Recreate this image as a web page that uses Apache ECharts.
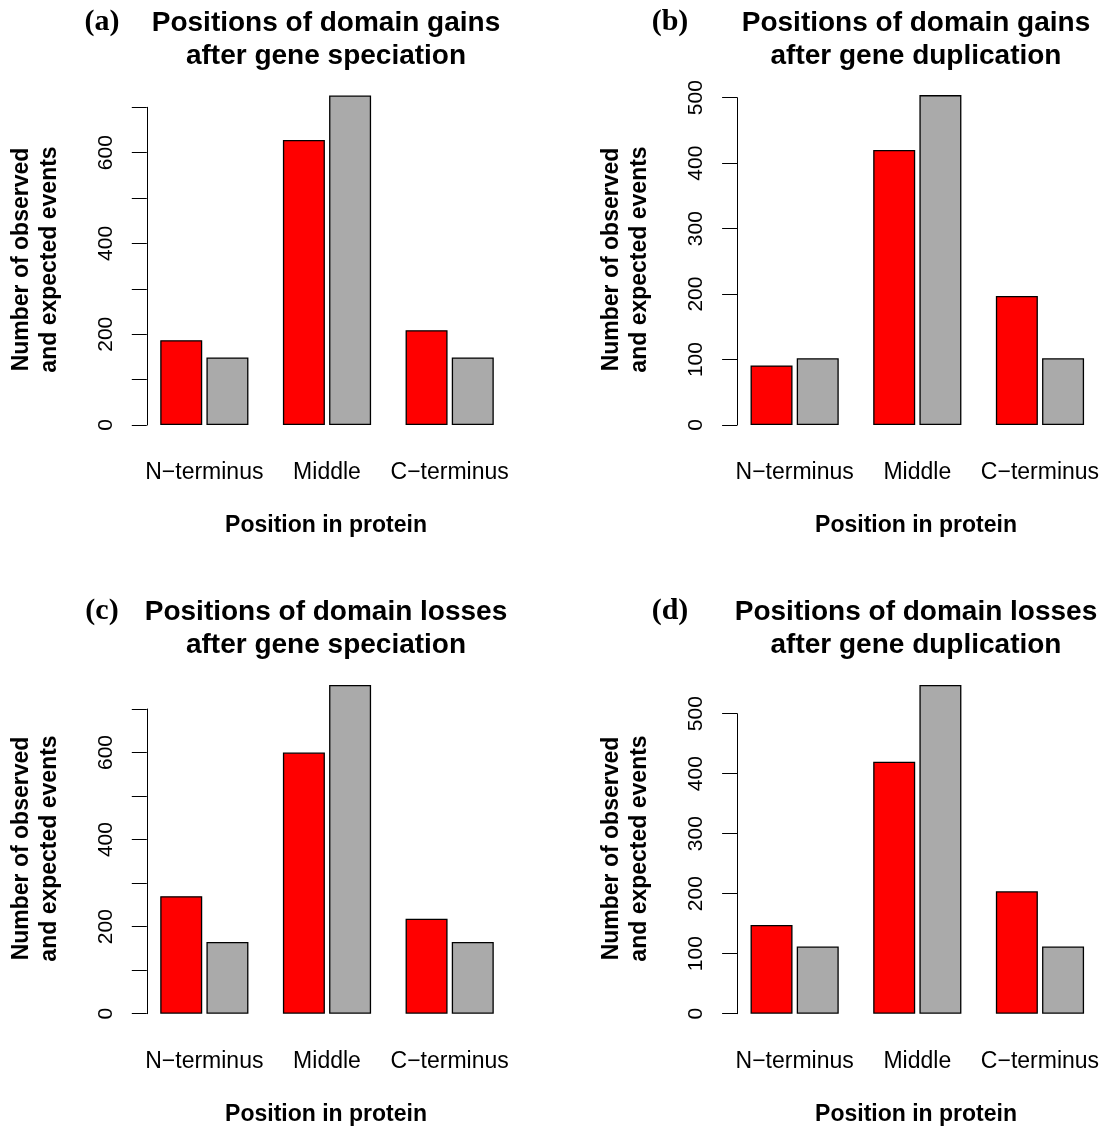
<!DOCTYPE html>
<html>
<head>
<meta charset="utf-8">
<script src="https://cdn.jsdelivr.net/npm/echarts@6/dist/echarts.min.js"></script>
<style>
  html, body { margin: 0; padding: 0; background: #fff; }
  #chart { width: 1103px; height: 1128px; }
</style>
</head>
<body>
<div id="chart"></div>
<script>
// categories and values
const categories = ['N\u2212terminus', 'Middle', 'C\u2212terminus']

const gainSpecObserved = [187, 628, 209]
const gainSpecExpected = [149, 726, 149]
const gainDupObserved = [91, 420, 197]
const gainDupExpected = [102, 504, 102]
const lossSpecObserved = [270, 600, 218]
const lossSpecExpected = [165, 755, 165]
const lossDupObserved = [148, 420, 204]
const lossDupExpected = [112, 548, 112]

// y axis: top tick and which ticks carry a label
const yMax = [700, 500, 700, 500]
const yLabelStep = [200, 100, 200, 100]

const panelTags = ['(a)', '(b)', '(c)', '(d)']
const panelTitles = [
  'Positions of domain gains\nafter gene speciation',
  'Positions of domain gains\nafter gene duplication',
  'Positions of domain losses\nafter gene speciation',
  'Positions of domain losses\nafter gene duplication'
]
const yTitle = 'Number of observed\nand expected events'
const xTitle = 'Position in protein'

const observed = [gainSpecObserved, gainDupObserved, lossSpecObserved, lossDupObserved]
const expected = [gainSpecExpected, gainDupExpected, lossSpecExpected, lossDupExpected]

const sans = '"Liberation Sans", Arial, Helvetica, sans-serif'
const serif = '"Liberation Serif", "Times New Roman", serif'

// panel frames (grid boxes), left/right columns and top/bottom rows
const grids = [
  { left: 143, top: 107.3, width: 368, height: 317.7 },
  { left: 733.3, top: 97.7, width: 368, height: 327.3 },
  { left: 143, top: 709, width: 368, height: 304.7 },
  { left: 733.3, top: 713.7, width: 368, height: 300 }
]
const colX = [326, 916]
const rowShift = [0, 589]
const yTitleX = [36, 626]
const tagX = [102, 670]

const myChart = echarts.init(document.getElementById('chart'), null, { renderer: 'canvas' })

let xAxis = []
let yAxis = []
let series = []
let graphic = []

grids.forEach((g, i) => {
  xAxis.push({
    type: 'category',
    gridIndex: i,
    data: categories,
    axisLine: { show: false },
    axisTick: { show: false },
    splitLine: { show: false },
    axisLabel: {
      color: '#000',
      fontFamily: sans,
      fontSize: 23,
      margin: 36,
      interval: 0,
      hideOverlap: false
    }
  })
  yAxis.push({
    type: 'value',
    gridIndex: i,
    min: 0,
    max: yMax[i],
    interval: 100,
    offset: -3.8,
    axisLine: { show: true, lineStyle: { color: '#000', width: 1 } },
    axisTick: { show: true, length: 15, inside: false, lineStyle: { color: '#000', width: 1 } },
    splitLine: { show: false },
    axisLabel: {
      color: '#000',
      fontFamily: sans,
      fontSize: 21,
      rotate: 90,
      margin: 30,
      formatter(val) {
        return val % yLabelStep[i] === 0 ? String(val) : ''
      }
    }
  })
  series.push({
    name: 'observed',
    type: 'bar',
    xAxisIndex: i,
    yAxisIndex: i,
    data: observed[i],
    barWidth: 42,
    barGap: '10%',
    clip: false,
    itemStyle: { color: '#FF0000', borderColor: '#000', borderWidth: 1.3 },
    emphasis: { disabled: true }
  })
  series.push({
    name: 'expected',
    type: 'bar',
    xAxisIndex: i,
    yAxisIndex: i,
    data: expected[i],
    barWidth: 42,
    barGap: '10%',
    clip: false,
    itemStyle: { color: '#AAAAAA', borderColor: '#000', borderWidth: 1.3 },
    emphasis: { disabled: true }
  })

  const col = i % 2
  const row = Math.floor(i / 2)
  const dy = rowShift[row]
  // panel title
  graphic.push({
    type: 'text',
    x: colX[col],
    y: 40 + dy,
    style: {
      text: panelTitles[i],
      font: 'bold 28px ' + sans,
      fill: '#000',
      align: 'center',
      verticalAlign: 'middle',
      lineHeight: 33
    }
  })
  // panel tag
  graphic.push({
    type: 'text',
    x: tagX[col],
    y: 22 + dy,
    style: {
      text: panelTags[i],
      font: 'bold 30px ' + serif,
      fill: '#000',
      align: 'center',
      verticalAlign: 'middle'
    }
  })
  // y axis title
  graphic.push({
    type: 'text',
    x: yTitleX[col],
    y: 259.5 + dy,
    rotation: Math.PI / 2,
    style: {
      text: yTitle,
      font: 'bold 23px ' + sans,
      fill: '#000',
      align: 'center',
      verticalAlign: 'middle',
      lineHeight: 28
    }
  })
  // x axis title
  graphic.push({
    type: 'text',
    x: colX[col],
    y: 526 + dy,
    style: {
      text: xTitle,
      font: 'bold 23px ' + sans,
      fill: '#000',
      align: 'center',
      verticalAlign: 'middle'
    }
  })
})

let option = {
  backgroundColor: '#fff',
  animation: false,
  grid: grids.map(g => Object.assign({ containLabel: false, outerBoundsMode: 'none' }, g)),
  xAxis: xAxis,
  yAxis: yAxis,
  series: series,
  graphic: graphic
}

myChart.setOption(option)
</script>
</body>
</html>
